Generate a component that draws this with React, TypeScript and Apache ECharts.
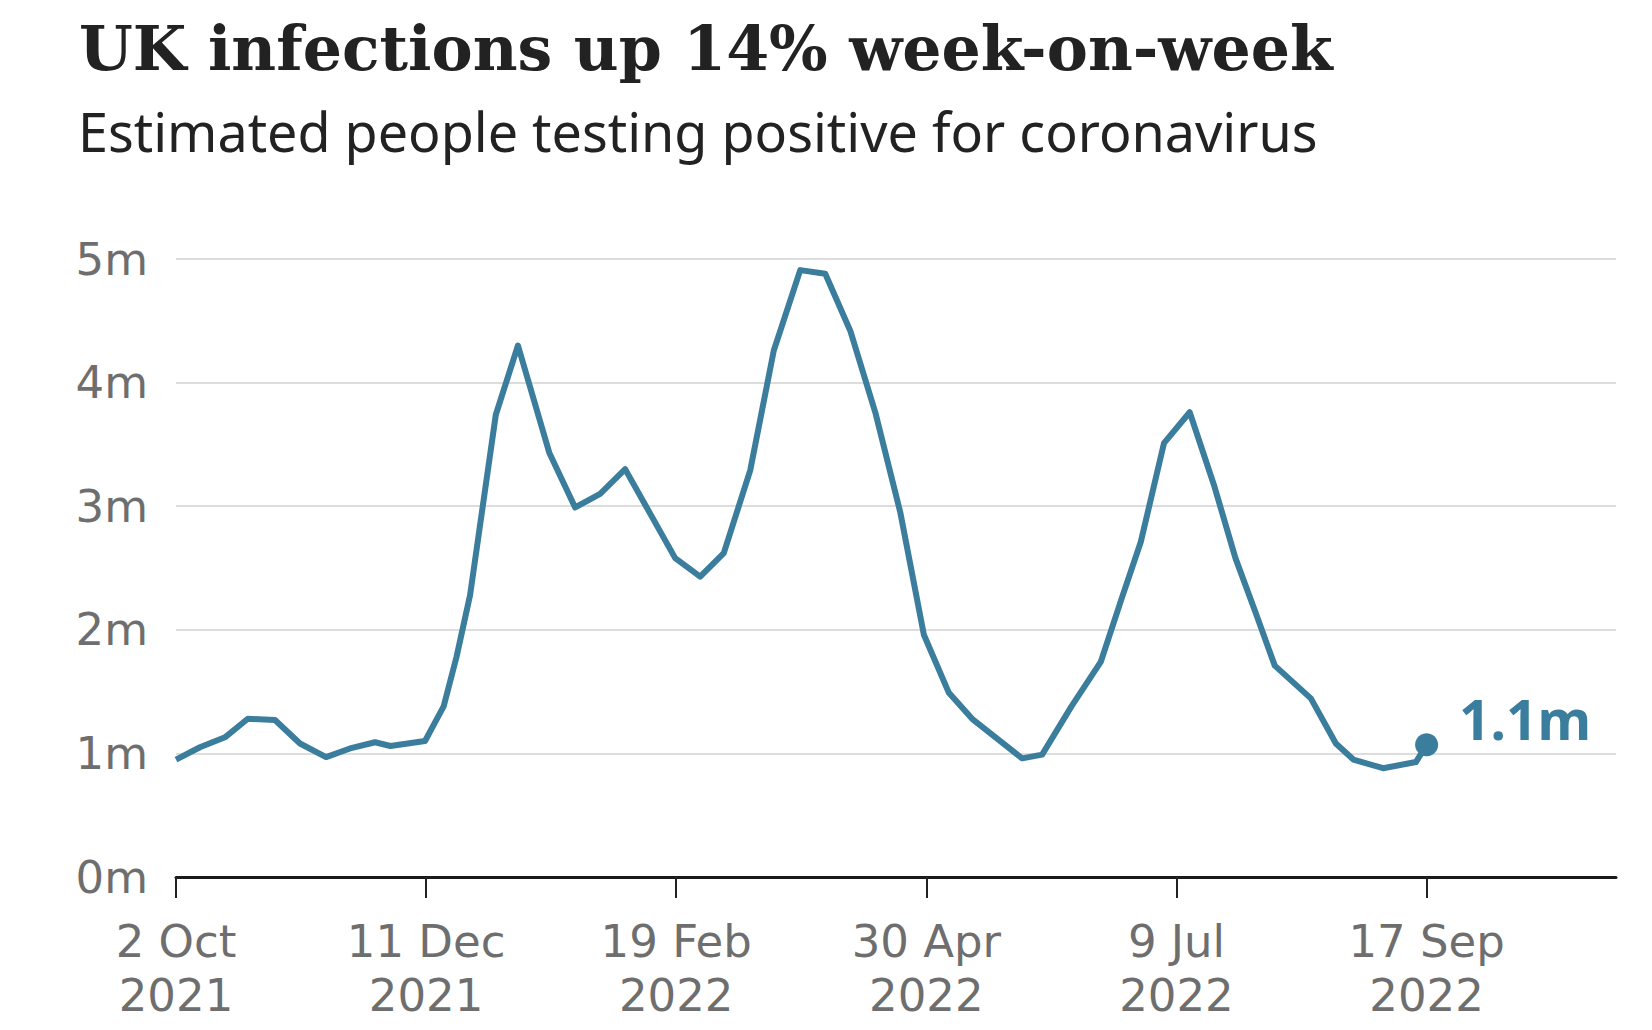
import React, { useEffect, useRef } from "react";
import * as echarts from "echarts";

// ---- Data (x = days since 2 Oct 2021, y = millions) ----
const daysSinceStart = [
  0, 6.7, 13.7, 20.1, 27.7, 34.7, 42, 48.7, 55.7, 60, 69.7, 74.9, 78.5, 82.3,
  89.5, 95.7, 104.5, 111.7, 118.7, 125.7, 132.7, 139.7, 146.7, 153.3, 160.7,
  167.3, 174.7, 181.7, 188.7, 195.7, 202.7, 209.3, 216.3, 222.8, 229.8, 236.8,
  242.4, 250.6, 258.8, 264.5, 270, 276.5, 283.7, 290.5, 296.5, 302, 307.5,
  317.6, 324.6, 329.5, 337.8, 347, 350,
];
const infectionsMillions = [
  0.95, 1.05, 1.13, 1.28, 1.27, 1.08, 0.97, 1.04, 1.09, 1.06, 1.1, 1.38, 1.78,
  2.28, 3.74, 4.3, 3.43, 2.99, 3.1, 3.3, 2.94, 2.58, 2.43, 2.62, 3.29, 4.26,
  4.91, 4.88, 4.42, 3.76, 2.95, 1.96, 1.49, 1.28, 1.12, 0.96, 0.99, 1.38, 1.74,
  2.24, 2.71, 3.51, 3.76, 3.17, 2.58, 2.15, 1.71, 1.445, 1.08, 0.95, 0.88,
  0.93, 1.07,
];
const xTickDays = [0, 70, 140, 210, 280, 350];
const xTickLabels = [
  "2 Oct\n2021",
  "11 Dec\n2021",
  "19 Feb\n2022",
  "30 Apr\n2022",
  "9 Jul\n2022",
  "17 Sep\n2022",
];
const yTicks = [0, 1, 2, 3, 4, 5];
const lastLabel = "1.1m";

const TITLE = "UK infections up 14% week-on-week";
const SUBTITLE = "Estimated people testing positive for coronavirus";

const LINE_COLOR = "#3a7d9c";
const SANS = "'Noto Sans', 'Open Sans', sans-serif";
const AXIS_SANS = "'DejaVu Sans', sans-serif";
const SERIF = "'DejaVu Serif', serif";

function fitFont(text: string, font: string, weight: string, target: number) {
  const ctx = document.createElement("canvas").getContext("2d");
  if (!ctx) return 60;
  ctx.font = `${weight} 100px ${font}`;
  const w = ctx.measureText(text).width;
  return (100 * target) / w;
}

export default function App() {
  const ref = useRef<HTMLDivElement>(null);

  useEffect(() => {
    if (!ref.current) return;
    const chart = echarts.init(ref.current, undefined, { renderer: "svg" });

    const titleSize = fitFont(TITLE, SERIF, "bold", 1254);
    const subSize = fitFont(SUBTITLE, SANS, "normal", 1240);
    const titleTop = 70 - 0.346 * titleSize - titleSize / 2;
    const subTop = 152 - 0.388 * subSize - subSize / 2;

    const lastIdx = daysSinceStart.length - 1;

    chart.setOption({
      animation: false,
      backgroundColor: "#ffffff",
      title: [
        {
          text: TITLE,
          left: 79,
          top: titleTop,
          padding: 0,
          textStyle: {
            fontFamily: SERIF,
            fontWeight: "bold",
            fontSize: titleSize,
            lineHeight: titleSize,
            color: "#222222",
          },
        },
        {
          text: SUBTITLE,
          left: 78,
          top: subTop,
          padding: 0,
          textStyle: {
            fontFamily: SANS,
            fontWeight: "normal",
            fontSize: subSize,
            lineHeight: subSize,
            color: "#222222",
          },
        },
      ],
      grid: { left: 176, right: 36, top: 259, bottom: 153, containLabel: false },
      xAxis: {
        type: "value",
        min: 0,
        max: 403,
        interval: 70,
        splitLine: { show: false },
        axisLine: {
          show: true,
          onZero: false,
          lineStyle: { color: "#1a1a1a", width: 3 },
        },
        axisTick: {
          show: true,
          customValues: xTickDays,
          length: 21,
          inside: false,
          lineStyle: { color: "#222222", width: 2 },
        },
        axisLabel: {
          show: true,
          customValues: xTickDays,
          margin: 37,
          fontFamily: AXIS_SANS,
          fontSize: 45,
          lineHeight: 54,
          color: "#6e6e6e",
          align: "center",
          formatter: (v: number) => {
            const i = xTickDays.indexOf(v);
            return i >= 0 ? xTickLabels[i] : "";
          },
        },
      },
      yAxis: {
        type: "value",
        min: yTicks[0],
        max: yTicks[yTicks.length - 1],
        interval: 1,
        axisLine: { show: false },
        axisTick: { show: false },
        splitLine: { show: true, lineStyle: { color: "#d2d2d2", width: 1.5 } },
        axisLabel: {
          margin: 28,
          fontFamily: AXIS_SANS,
          fontSize: 45,
          color: "#6e6e6e",
          formatter: (v: number) => `${v}m`,
        },
      },
      series: [
        {
          type: "line",
          data: daysSinceStart.map((d, i) => [d, infectionsMillions[i]]),
          showSymbol: false,
          symbol: "none",
          lineStyle: { color: LINE_COLOR, width: 6, join: "round" },
          z: 3,
        },
        {
          type: "scatter",
          data: [[daysSinceStart[lastIdx], infectionsMillions[lastIdx]]],
          symbolSize: 23,
          itemStyle: { color: LINE_COLOR, opacity: 1 },
          z: 4,
          label: {
            show: true,
            position: "right",
            distance: 21,
            offset: [0, -26],
            formatter: lastLabel,
            fontFamily: SANS,
            fontWeight: "bold",
            fontSize: 55,
            color: LINE_COLOR,
            opacity: 1,
          },
        },
      ],
    });

    return () => chart.dispose();
  }, []);

  return (
    <div
      ref={ref}
      style={{ position: "absolute", left: 0, top: 0, width: 1652, height: 1030 }}
    />
  );
}
